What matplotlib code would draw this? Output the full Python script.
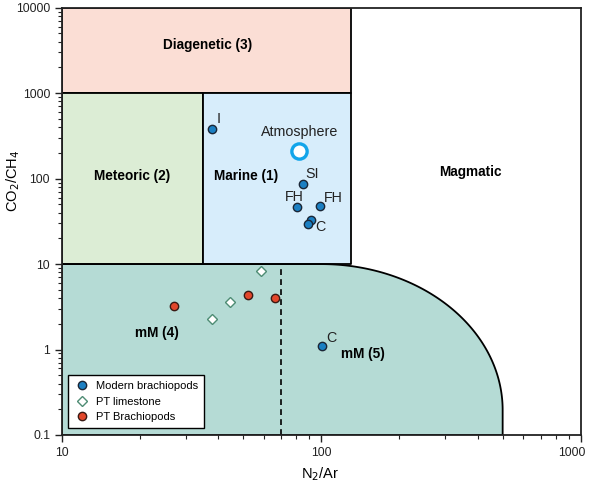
import numpy as np
import matplotlib
matplotlib.use('Agg')
import matplotlib.pyplot as plt
import matplotlib.transforms as mtransforms
from matplotlib.lines import Line2D

plt.rcParams['font.family'] = ['Liberation Sans', 'DejaVu Sans']

# Modern brachiopods (N2/Ar, CO2/CH4) and their site codes
modern_n2ar = [37.8, 85.3, 80.4, 99.2, 91.2, 89.1, 101]
modern_co2ch4 = [380, 87.6, 47.1, 47.9, 33.1, 29.2, 1.09]
modern_codes = ['I', 'SI', 'FH', 'FH', '', 'C', 'C']
code_offsets = [(5, 7), (6, 7), (-1.5, 7), (9.5, 6), (0, 0), (8.4, -2), (6.5, 6)]

# Permian-Triassic samples
pt_lime_n2ar = [58.5, 44.3, 37.8]
pt_lime_co2ch4 = [8.26, 3.61, 2.28]
pt_brach_n2ar = [27.1, 52.1, 66.4]
pt_brach_co2ch4 = [3.27, 4.36, 3.98]

# Air composition
atm_n2ar = 82.2
atm_co2ch4 = 211

# field boundaries
meteoric_marine_split = 35
marine_max_n2ar = 130
mixed_split_n2ar = 70
mixed_max_n2ar = 500

fig = plt.figure(figsize=(5.89, 4.86), dpi=100)
ax = fig.add_axes([0.105, 0.105, 0.881, 0.879])
ax.set_xscale('log')
ax.set_yscale('log')
ax.set_xlim(10, 1000)
ax.set_ylim(0.1, 10000)

edge = dict(edgecolor='black', linewidth=1.3)
ax.fill_between([10, marine_max_n2ar], 1000, 10000, facecolor='#fbded5', zorder=1, **edge)
ax.fill_between([10, meteoric_marine_split], 10, 1000, facecolor='#dcedd5', zorder=1, **edge)
ax.fill_between([meteoric_marine_split, marine_max_n2ar], 10, 1000, facecolor='#d7edfb', zorder=1, **edge)

# mixed field: flat top at 10 then a quarter ellipse (in log space) down to N2/Ar = 500
cx, cy = 2.0, -0.708
rx, ry = np.log10(mixed_max_n2ar) - cx, 1.0 - cy
t = np.linspace(np.pi / 2, 0, 120)
arc_x = 10 ** (cx + rx * np.cos(t))
arc_y = 10 ** (cy + ry * np.sin(t))
poly_x = np.concatenate([[10, 10], arc_x, [mixed_max_n2ar]])
poly_y = np.concatenate([[0.1, 10], arc_y, [0.1]])
ax.fill(poly_x, poly_y, facecolor='#b5dbd5', edgecolor='black', linewidth=1.3, zorder=2)

ax.plot([mixed_split_n2ar, mixed_split_n2ar], [0.1, 10], color='black', linestyle=(0, (3.5, 2.5)),
        linewidth=1.2, zorder=3)

# field names
bold = dict(fontsize=9.8, fontweight='bold', ha='center', va='center', zorder=4)
ax.text(36.5, 3640, 'Diagenetic (3)', **bold)
ax.text(18.6, 107, 'Meteoric (2)', **bold)
ax.text(51.2, 107, 'Marine (1)', **bold)
ax.text(377, 119, 'Magmatic', **bold)
ax.text(23.2, 1.56, 'mM (4)', **bold)
ax.text(144.5, 0.885, 'mM (5)', **bold)

ax.plot(atm_n2ar, atm_co2ch4, 'o', markersize=11, markerfacecolor='white',
        markeredgecolor='#12a5ea', markeredgewidth=2.4, zorder=5)
ax.annotate('Atmosphere', (atm_n2ar, atm_co2ch4), xytext=(0, 13.5), textcoords='offset points',
            ha='center', va='center', fontsize=10.3, color='#222222', zorder=5)

ax.plot(modern_n2ar, modern_co2ch4, 'o', markersize=6, markerfacecolor='#1b7fc2',
        markeredgecolor='#1a2636', markeredgewidth=1.0, linestyle='none', zorder=6)
for xv, yv, code, off in zip(modern_n2ar, modern_co2ch4, modern_codes, code_offsets):
    if code:
        ax.annotate(code, (xv, yv), xytext=off, textcoords='offset points',
                    ha='center', va='center', fontsize=10.3, color='#222222', zorder=6)

ax.plot(pt_lime_n2ar, pt_lime_co2ch4, 'D', markersize=4.6, markerfacecolor='white',
        markeredgecolor='#4e8c74', markeredgewidth=1.0, linestyle='none', zorder=6)
ax.plot(pt_brach_n2ar, pt_brach_co2ch4, 'o', markersize=6, markerfacecolor='#e2472b',
        markeredgecolor='#3a1a14', markeredgewidth=1.0, linestyle='none', zorder=6)

handles = [
    Line2D([], [], marker='o', linestyle='none', markersize=6, markerfacecolor='#1b7fc2',
           markeredgecolor='#1a2636', label='Modern brachiopods'),
    Line2D([], [], marker='D', linestyle='none', markersize=4.6, markerfacecolor='white',
           markeredgecolor='#4e8c74', label='PT limestone'),
    Line2D([], [], marker='o', linestyle='none', markersize=6, markerfacecolor='#e2472b',
           markeredgecolor='#3a1a14', label='PT Brachiopods'),
]
leg = ax.legend(handles=handles, loc='lower left', bbox_to_anchor=(0.0116, 0.0157), fontsize=8,
                frameon=True, fancybox=False, edgecolor='black', framealpha=1, borderaxespad=0,
                handletextpad=0.6, borderpad=0.55, labelspacing=0.5, handlelength=1.4)
leg.get_frame().set_linewidth(1.0)
leg.set_zorder(7)

for s in ax.spines.values():
    s.set_linewidth(1.3)
    s.set_color('#222222')
    s.set_zorder(8)

ax.tick_params(which='both', direction='out', top=False, right=False, labelsize=8.8, colors='#222222')
ax.tick_params(which='major', length=5, width=1.0)
ax.tick_params(which='minor', length=3, width=0.8)
ax.set_xticks([10, 100, 1000])
ax.set_xticklabels(['10', '100', '1000'])
ax.set_yticks([0.1, 1, 10, 100, 1000, 10000])
ax.set_yticklabels(['0.1', '1', '10', '100', '1000', '10000'])

# keep the last x label inside the figure
last = ax.get_xticklabels()[-1]
last.set_horizontalalignment('right')
last.set_transform(last.get_transform() + mtransforms.ScaledTranslation(0.05, 0, fig.dpi_scale_trans))

ax.set_xlabel('N$_2$/Ar', fontsize=10.5)
ax.set_ylabel('CO$_2$/CH$_4$', fontsize=10.5)
ax.xaxis.set_label_coords(0.497, -0.072)
ax.yaxis.set_label_coords(-0.077, 0.595)

fig.savefig('out.png', dpi=100)
